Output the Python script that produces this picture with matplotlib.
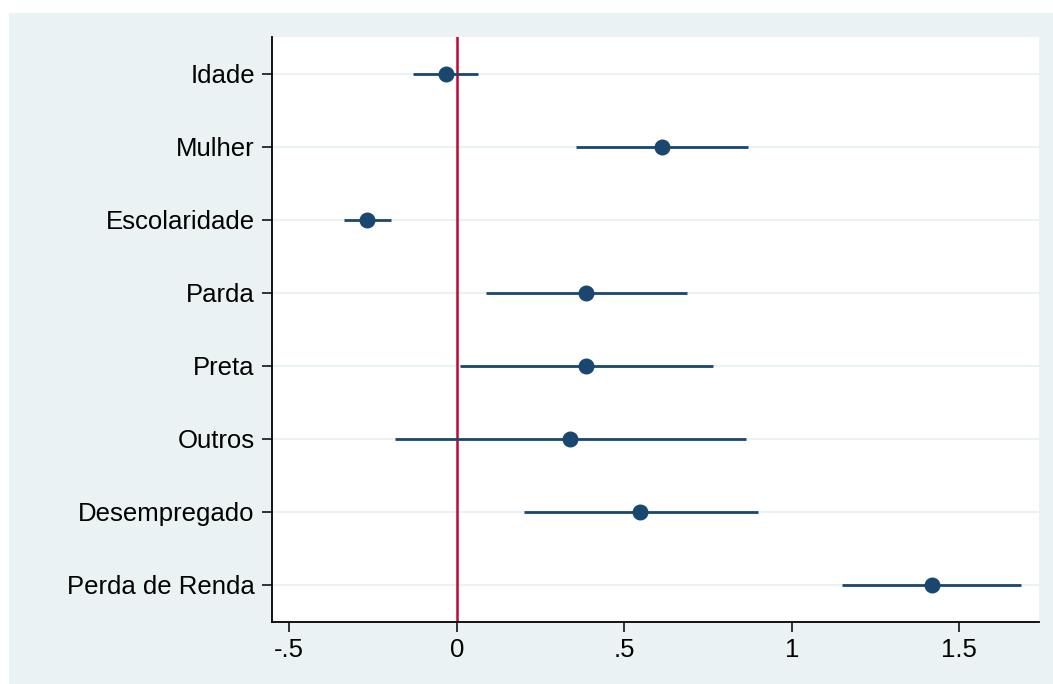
import matplotlib
import matplotlib.pyplot as plt
from matplotlib.patches import Rectangle
matplotlib.use('Agg')

labels = ['Idade', 'Mulher', 'Escolaridade', 'Parda', 'Preta', 'Outros',
          'Desempregado', 'Perda de Renda']
coef = [-0.032, 0.612, -0.268, 0.386, 0.386, 0.338, 0.548, 1.418]
ci_low = [-0.130, 0.356, -0.336, 0.088, 0.010, -0.184, 0.201, 1.151]
ci_high = [0.064, 0.868, -0.196, 0.688, 0.766, 0.864, 0.900, 1.685]
xticks = [-0.5, 0, 0.5, 1, 1.5]
xtick_labels = ['-.5', '0', '.5', '1', '1.5']

W, H = 1053, 684
bg = '#eaf2f3'
navy = '#1a476f'
red = '#c10534'

plt.rcParams['font.family'] = ['Liberation Sans', 'DejaVu Sans']

fig = plt.figure(figsize=(W / 100, H / 100), dpi=100, facecolor='white')
# light outer region like Stata's graph region
fig.patches.append(Rectangle((9 / W, 0), 1 - 9 / W, 1 - 13 / H,
                             transform=fig.transFigure, facecolor=bg,
                             edgecolor='none', zorder=-10))

ax = fig.add_axes([271.5 / W, 1 - 621.5 / H, (1039 - 271.5) / W, (621.5 - 37) / H])
ax.set_zorder(1)
ax.set_facecolor('white')

ypos = list(range(1, len(labels) + 1))
for y in ypos:
    ax.axhline(y, color=bg, lw=1.5, zorder=1)

ax.axvline(0, color=red, lw=1.8, zorder=2)
ax.hlines(ypos, ci_low, ci_high, color=navy, lw=2, zorder=3)
ax.plot(coef, ypos, 'o', color=navy, markersize=10.5, zorder=4)

ax.set_xlim(-0.553, 1.738)
ax.set_ylim(8.5, 0.5)
ax.set_yticks(ypos)
ax.set_yticklabels(labels)
ax.set_xticks(xticks)
ax.set_xticklabels(xtick_labels)

for s in ['top', 'right']:
    ax.spines[s].set_visible(False)
for s in ['left', 'bottom']:
    ax.spines[s].set_linewidth(1.3)
    ax.spines[s].set_color('black')

ax.tick_params(axis='both', labelsize=18.5, length=7, width=1.1, colors='black')
ax.tick_params(axis='y', pad=5)
ax.tick_params(axis='x', pad=5)

fig.savefig('out.png', dpi=100, facecolor='white')
